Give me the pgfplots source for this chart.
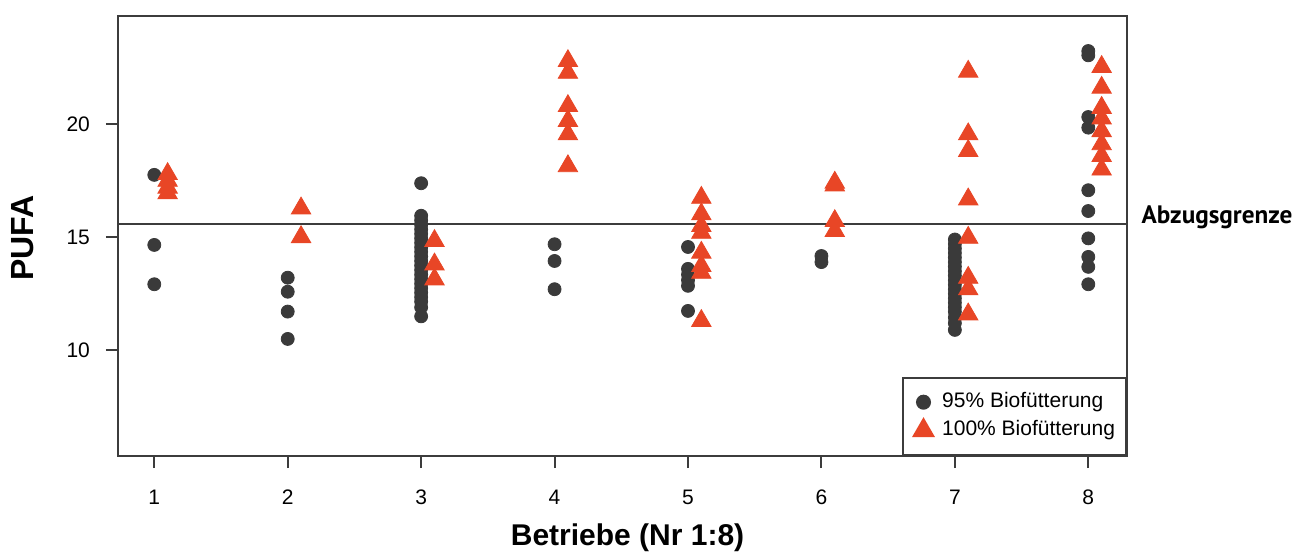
\documentclass[border=0pt]{standalone}
\usepackage{fontspec}
\setmainfont{Liberation Sans}
\newfontfamily\ptsans{PT Sans}
\usepackage{pgfplots}
\pgfplotsset{compat=1.18}
\definecolor{dotgray}{RGB}{58,58,58}
\definecolor{triorange}{RGB}{232,70,38}
\definecolor{framegray}{RGB}{60,60,60}

\begin{document}
\begin{tikzpicture}
\begin{axis}[
    at={(0,0)}, anchor=south west,
    scale only axis,
    width=504.5pt, height=220pt,
    xmin=0.728, xmax=8.29,
    ymin=5.32, ymax=24.79,
    axis line style={framegray, line width=1pt},
    xtick={1,2,...,8},
    ytick={10,15,20},
    tick pos=left,
    tick align=outside,
    major tick length=6pt,
    tick style={framegray, line width=1pt},
    /pgf/number format/assume math mode=true,
    ticklabel style={font=\fontsize{10.5}{12}\selectfont},
    xticklabel style={yshift=-7.5pt},
    yticklabel style={xshift=-4.5pt},
    xlabel={Betriebe (Nr 1:8)},
    ylabel={PUFA},
    xlabel style={font=\bfseries\fontsize{15}{17}\selectfont, at={(axis description cs:0.505,0)}, anchor=center, yshift=-41pt},
    ylabel style={font=\bfseries\fontsize{16}{18}\selectfont, at={(axis description cs:-0.0942,0.495)}, anchor=center},
    clip=false,
    legend cell align=left,
    legend image code/.code={\draw[#1] plot coordinates {(0pt,0pt)};},
    legend style={at={(axis description cs:1,0)}, anchor=south east,
        draw=framegray, line width=1pt, inner xsep=5.5pt, inner ysep=7.3pt,
        font=\fontsize{10.5}{12}\selectfont, row sep=3.5pt,
        nodes={inner sep=0pt, text height=7.5pt, text depth=2.5pt},
        /tikz/column 1/.style={column sep=4.5pt}},
]
% Abzugsgrenze
\addplot[forget plot, framegray, line width=1pt] coordinates {(0.728,15.6) (8.29,15.6)};

% 95% Biofuetterung
\addplot[only marks, mark=*, mark size=3.25pt, color=dotgray, mark options={fill=dotgray, draw=dotgray}] coordinates {
(1,17.76) (1,14.66) (1,12.92)
(2,13.21) (2,12.59) (2,11.71) (2,10.50)
(3,17.39) (3,15.95) (3,15.75) (3,15.55) (3,15.35) (3,15.15) (3,14.95) (3,14.75)
(3,14.55) (3,14.35) (3,14.15) (3,13.95) (3,13.75) (3,13.55) (3,13.35) (3,13.15)
(3,12.95) (3,12.75) (3,12.55) (3,12.35) (3,12.15) (3,11.90) (3,11.50)
(4,14.69) (4,13.95) (4,12.70)
(5,14.57) (5,13.60) (5,13.35) (5,13.10) (5,12.85) (5,11.74)
(6,14.17) (6,13.90)
(7,14.90) (7,14.70) (7,14.50) (7,14.30) (7,14.10) (7,13.90) (7,13.70) (7,13.50)
(7,13.30) (7,13.10) (7,12.90) (7,12.70) (7,12.50) (7,12.30) (7,12.10) (7,11.90)
(7,11.70) (7,11.45) (7,11.20) (7,10.90)
(8,23.24) (8,23.05) (8,20.32) (8,19.85) (8,17.08) (8,16.16) (8,14.95) (8,14.13)
(8,13.69) (8,12.92)
};
\addlegendentry{95\% Biofütterung}

% 100% Biofuetterung
\addplot[only marks, mark=triangle*, mark size=5.6pt, color=triorange, mark options={fill=triorange, draw=triorange}] coordinates {
(1.1,17.80) (1.1,17.50) (1.1,17.20) (1.1,16.95)
(2.1,16.28) (2.1,15.01)
(3.1,14.84) (3.1,13.80) (3.1,13.14)
(4.1,22.80) (4.1,22.28) (4.1,20.81) (4.1,20.15) (4.1,19.56) (4.1,18.15)
(5.1,16.75) (5.1,16.02) (5.1,15.50) (5.1,15.20) (5.1,14.32) (5.1,13.73) (5.1,13.43) (5.1,11.30)
(6.1,17.42) (6.1,17.30) (6.1,15.72) (6.1,15.28)
(7.1,22.33) (7.1,19.56) (7.1,18.82) (7.1,16.68) (7.1,14.98) (7.1,13.21) (7.1,12.70) (7.1,11.59)
(8.1,22.54) (8.1,21.62) (8.1,20.73) (8.1,20.26) (8.1,19.70) (8.1,19.12) (8.1,18.60) (8.1,18.00)
};
\addlegendentry{100\% Biofütterung}

\node[anchor=base west, font=\ptsans\bfseries\fontsize{12.6}{14}\selectfont, xshift=3.8pt] at (axis cs:8.29,15.6) {Abzugsgrenze};
\end{axis}
\pgfresetboundingbox
\path[use as bounding box] (-59pt,-50.5pt) rectangle (592pt,228pt);
\end{tikzpicture}
\end{document}
